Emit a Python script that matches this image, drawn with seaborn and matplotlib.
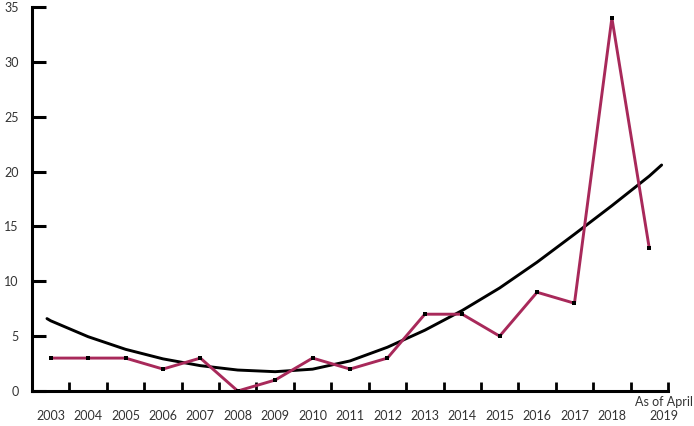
import numpy as np
import pandas as pd
import matplotlib
matplotlib.use("Agg")
import matplotlib.pyplot as plt
import seaborn as sns

years = ["2003", "2004", "2005", "2006", "2007", "2008", "2009", "2010", "2011",
         "2012", "2013", "2014", "2015", "2016", "2017", "2018", "2019"]
counts = [3, 3, 3, 2, 3, 0, 1, 3, 2, 3, 7, 7, 5, 9, 8, 34, 13]
y_ticks = [0, 5, 10, 15, 20, 25, 30, 35]

# trend curve (position on the year axis, value)
trend_pos = [-0.1, 0, 1, 2, 3, 4, 5, 6, 7, 8, 9, 10, 11, 12, 13, 14, 15, 16, 16.33]
trend_val = [6.6, 6.4, 4.95, 3.8, 2.93, 2.31, 1.91, 1.76, 1.99, 2.74, 3.99, 5.54,
             7.34, 9.39, 11.74, 14.29, 16.89, 19.59, 20.6]

sns.set_style("white")
plt.rcParams["font.family"] = ["Lato", "DejaVu Sans"]

fig = plt.figure(figsize=(6.94, 4.26), dpi=100)
ax = fig.add_axes([32 / 694, 1 - 391 / 426, (668 - 32) / 694, (391 - 7) / 426])

df = pd.DataFrame({"x": np.arange(len(years)), "count": counts})
trend = pd.DataFrame({"x": trend_pos, "y": trend_val})

sns.lineplot(data=trend, x="x", y="y", ax=ax, color="black", linewidth=2.1)
sns.lineplot(data=df, x="x", y="count", ax=ax, color="#A8295A", linewidth=2.1,
             marker="s", markersize=3.0, markerfacecolor="black",
             markeredgecolor="black", markeredgewidth=0)

ax.set_xlim(-0.5, len(years) - 0.5)
ax.set_ylim(0, 35)
ax.set_xlabel("")
ax.set_ylabel("")

for s in ["top", "right"]:
    ax.spines[s].set_visible(False)
for s in ["left", "bottom"]:
    ax.spines[s].set_linewidth(2.2)
    ax.spines[s].set_color("black")

ax.set_yticks(y_ticks)
ax.set_yticklabels([str(v) for v in y_ticks], fontsize=9, color="#333333")
ax.tick_params(axis="y", left=True, direction="in", length=10, width=2.2,
               pad=9.5, color="black")

# x: ticks at category boundaries, labels at centres
ax.set_xticks(np.arange(len(years)) + 0.5)
ax.set_xticklabels([])
ax.tick_params(axis="x", bottom=True, direction="in", length=6.5, width=2.0,
               color="black")
ax.set_xticks(np.arange(len(years) - 1), minor=True)
ax.set_xticklabels(years[:-1], minor=True, fontsize=9, color="#333333")
ax.tick_params(axis="x", which="minor", bottom=True, length=0, pad=14)

ax.annotate("As of April\n" + years[-1], xy=(len(years) - 0.6, 0),
            xycoords=("data", "axes fraction"), xytext=(0, -13.0),
            textcoords="offset points", ha="center", va="center",
            multialignment="center", linespacing=1.2,
            fontsize=9, color="#333333", annotation_clip=False)

fig.savefig("out.png", dpi=100)
